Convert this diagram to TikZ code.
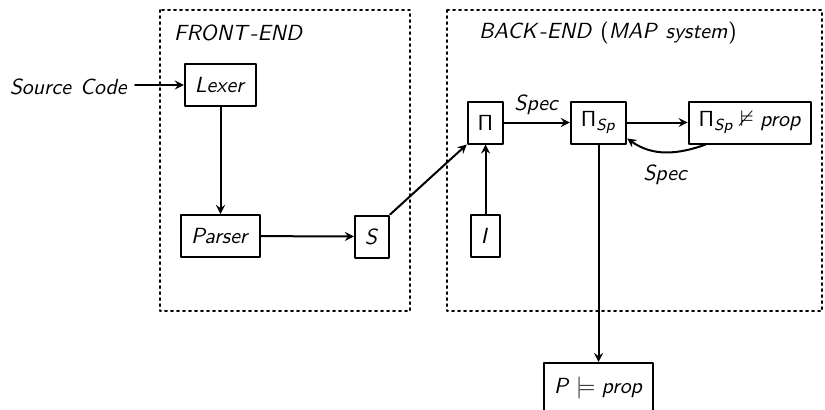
\documentclass[tikz,border=0pt]{standalone}
\usepackage{amsmath,amssymb}
\DeclareMathVersion{sf}
\SetSymbolFont{operators}{sf}{OT1}{cmss}{m}{n}
\SetSymbolFont{letters}{sf}{OT1}{cmss}{m}{sl}
\begin{document}
\begin{tikzpicture}[>=stealth,x=0.5pt,y=-0.5pt,line cap=round,line join=round,
    font=\fontsize{11.3}{13}\selectfont\mathversion{sf}\sffamily,
    blk/.style={draw,line width=1pt,minimum height=21pt,inner xsep=5pt},
    grp/.style={line width=1pt,dotted},
    link/.style={->,line width=1pt}]
			\useasboundingbox (0,0) rectangle (825,409);
			% the two stages
			\draw[grp] (160,10) rectangle (410,311);
			\draw[grp] (447,10) rectangle (822,311);
			\node[anchor=west] (fe) at (167,33) {$FRONT\text{\itshape -}END$};
			\node[anchor=west] (be) at (472,33) {$BACK\text{\itshape -}END\ (MAP\ system)$};
			% blocks
			\node (src) at (69,87) {$Source\ Code$};
			\node[blk] (lexer) at (220.5,85) {$Lexer$};
			\node[blk] (parser) at (220.5,236) {$Parser$};
			\node[blk] (s) at (372,236.5) {$S$};
			\node[blk] (pi) at (485.5,122.5) {$\Pi$};
			\node[blk] (i) at (485.5,236) {$I$};
			\node[blk] (pisp) at (598.5,122.5) {$\Pi_{Sp}$};
			\node[blk] (neg) at (750,122.5) {$\Pi_{Sp}\nvDash prop$};
			\node[blk,minimum height=25pt] (p) at (598.5,388) {$P\models prop$};
			% links
			\draw[link] (src.east |- lexer) -- (lexer);
			\draw[link] (lexer) -- (parser);
			\draw[link] (parser) -- (s);
			\draw[link] (s.north east) -- (pi.south west);
			\draw[link] (i) -- (pi);
			\draw[link] (pi) -- (pisp) node[midway,above] (spec1) {$Spec$};
			\draw[link] (pisp) -- (neg);
			\draw[link] ([xshift=9pt]neg.south west) to[out=-160,in=-35] ([yshift=3pt]pisp.south east);
			\node (spec2) at (666,175) {$Spec$};
			\draw[link] (pisp) -- (p);
		\end{tikzpicture}
\end{document}
